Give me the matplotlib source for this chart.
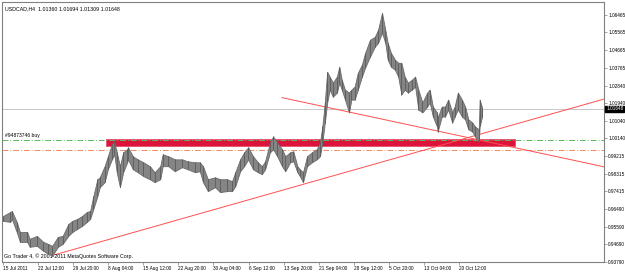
import matplotlib
matplotlib.use("Agg")
import matplotlib.pyplot as plt
from matplotlib.patches import Rectangle

# H4 bars (bar index), highs and lows
bar = [0, 9, 11, 17, 21, 30, 33, 42, 50, 56, 61, 68, 74, 81, 86, 92, 98, 104, 108, 112,
       117, 120, 126, 130, 135, 138, 141, 145, 149, 154, 155, 161, 167, 174, 182, 188, 195, 198, 205, 213,
       222, 229, 238, 244, 248, 254, 263, 269, 278, 284, 288, 294, 299, 304, 310, 316, 321, 325, 331, 335,
       340, 346, 350, 356, 360, 365, 368, 372, 377, 383, 389, 393, 396, 399, 402, 405, 409, 414, 417, 420,
       424, 429, 432, 436, 440, 445, 449, 455, 461, 465, 470, 474, 477, 481, 486, 490, 494, 498, 502, 507,
       511, 515, 520, 526, 529, 533, 538, 539, 544, 548, 552, 557, 560, 564, 569, 573, 577, 582, 585, 590,
       591, 594]
hi = [0.9614, 0.9635, 0.9640, 0.9584, 0.9532, 0.9532, 0.9497, 0.9512, 0.9481, 0.9471, 0.9461, 0.9507, 0.9512, 0.9573, 0.9589, 0.9599, 0.9614, 0.9635, 0.9640, 0.9716,
      0.9803, 0.9813, 0.9870, 0.9921, 0.9982, 0.9997, 0.9941, 0.9870, 0.9941, 0.9957, 0.9967, 0.9921, 0.9905, 0.9890, 0.9870, 0.9839, 0.9870, 0.9931, 0.9921, 0.9905,
      0.9905, 0.9895, 0.9890, 0.9890, 0.9870, 0.9803, 0.9813, 0.9803, 0.9803, 0.9793, 0.9839, 0.9905, 0.9941, 0.9967, 0.9921, 0.9890, 0.9870, 0.9895, 0.9992, 1.0023,
      0.9992, 0.9957, 0.9921, 0.9941, 0.9946, 0.9870, 0.9854, 0.9839, 0.9921, 0.9941, 0.9957, 0.9992, 1.0074, 1.0197, 1.0355, 1.0330, 1.0299, 1.0330, 1.0381, 1.0314,
      1.0263, 1.0248, 1.0263, 1.0279, 1.0350, 1.0391, 1.0452, 1.0519, 1.0534, 1.0570, 1.0657, 1.0570, 1.0503, 1.0452, 1.0417, 1.0401, 1.0401, 1.0330, 1.0299, 1.0314,
      1.0330, 1.0263, 1.0197, 1.0248, 1.0263, 1.0176, 1.0146, 1.0120, 1.0176, 1.0176, 1.0212, 1.0146, 1.0176, 1.0248, 1.0212, 1.0176, 1.0110, 1.0094, 1.0074, 1.0059,
      1.0212, 1.0171]
lo = [0.9589, 0.9584, 0.9599, 0.9532, 0.9481, 0.9481, 0.9456, 0.9461, 0.9435, 0.9420, 0.9410, 0.9456, 0.9471, 0.9512, 0.9532, 0.9548, 0.9563, 0.9584, 0.9599, 0.9650,
      0.9716, 0.9762, 0.9788, 0.9854, 0.9905, 0.9931, 0.9839, 0.9762, 0.9839, 0.9890, 0.9905, 0.9854, 0.9839, 0.9819, 0.9803, 0.9788, 0.9803, 0.9870, 0.9870, 0.9844,
      0.9865, 0.9854, 0.9839, 0.9844, 0.9788, 0.9742, 0.9762, 0.9737, 0.9742, 0.9742, 0.9767, 0.9844, 0.9870, 0.9905, 0.9854, 0.9839, 0.9829, 0.9854, 0.9941, 0.9957,
      0.9921, 0.9870, 0.9844, 0.9890, 0.9895, 0.9839, 0.9819, 0.9788, 0.9870, 0.9890, 0.9905, 0.9921, 0.9992, 1.0094, 1.0197, 1.0263, 1.0227, 1.0248, 1.0299, 1.0263,
      1.0212, 1.0146, 1.0212, 1.0212, 1.0263, 1.0330, 1.0376, 1.0432, 1.0483, 1.0503, 1.0555, 1.0503, 1.0417, 1.0381, 1.0365, 1.0330, 1.0238, 1.0263, 1.0248, 1.0263,
      1.0279, 1.0161, 1.0146, 1.0176, 1.0197, 1.0125, 1.0074, 1.0048, 1.0125, 1.0125, 1.0161, 1.0094, 1.0125, 1.0161, 1.0125, 1.0110, 1.0059, 1.0048, 1.0023, 0.9997,
      1.0074, 1.0125]

title = "USDCAD,H4  1.01360 1.01694 1.01309 1.01648"
bid = 1.01648
order_price = 1.0003
stop_price = 0.9952
zone = (128, 635, 0.9972, 1.0008)
trend_down = ([346, 800], [1.0222, 0.9818])
trend_up = ([64, 800], [0.9415, 1.0279])

price_ticks = [1.06465, 1.05565, 1.04665, 1.03765, 1.02840, 1.01940, 1.01040, 1.00140,
               0.99215, 0.98315, 0.97415, 0.96490, 0.95590, 0.94690, 0.93790]
date_labels = ["15 Jul 2011", "22 Jul 12:00", "29 Jul 20:00", "8 Aug 04:00", "15 Aug 12:00",
               "22 Aug 20:00", "30 Aug 04:00", "6 Sep 12:00", "13 Sep 20:00", "21 Sep 04:00",
               "28 Sep 12:00", "5 Oct 20:00", "13 Oct 04:00", "20 Oct 12:00"]
date_bars = [43.5 * i for i in range(len(date_labels))]

plt.rcParams["font.family"] = ["Liberation Sans", "DejaVu Sans"]

fig = plt.figure(figsize=(6.25, 2.73), dpi=100)
ax = fig.add_axes([2 / 625, 11 / 273, 602 / 625, 260 / 273])
ax.set_xlim(-1.24, 745.2)
ax.set_ylim(0.9378, 1.0713)

ax.add_patch(Rectangle((zone[0], zone[2]), zone[1] - zone[0], zone[3] - zone[2],
                       facecolor="#dc143c", edgecolor="#e85070", lw=0.6, zorder=2))
ax.axhline(bid, color="#c8c8c8", lw=0.7, zorder=1)
ax.axhline(order_price, color="#5cb85c", lw=0.7, ls=(0, (6, 2, 1, 2)), zorder=3)
ax.axhline(stop_price, color="#f08a60", lw=0.7, ls=(0, (6, 2, 1, 2)), zorder=3)
ax.plot(*trend_down, color="#ff5050", lw=0.7, zorder=3)
ax.plot(*trend_up, color="#ff5050", lw=0.7, zorder=3)

ax.fill_between(bar, lo, hi, color="#858585", lw=0.6, edgecolor="#6a6a6a", zorder=4)
ax.vlines(bar, lo, hi, color="#5a5a5a", lw=0.6, zorder=5)

for s in ax.spines.values():
    s.set_color("#808080")
    s.set_linewidth(0.8)

ax.yaxis.tick_right()
ax.set_yticks(price_ticks)
ax.set_yticklabels(["%.5f" % p for p in price_ticks], fontsize=3.4)
ax.tick_params(axis="y", length=2, width=0.5, pad=1, colors="#808080", labelcolor="black")
ax.set_xticks(date_bars)
ax.set_xticklabels(date_labels, fontsize=3.4, ha="left")
ax.tick_params(axis="x", length=2, width=0.5, pad=1, colors="#808080", labelcolor="black")

ax.text(0.005, 0.985, title, transform=ax.transAxes, fontsize=3.8, va="top", ha="left")
ax.text(0.003, 0.012, "Go Trader 4, \u00a9 2001-2011 MetaQuotes Software Corp.",
        transform=ax.transAxes, fontsize=3.8, va="bottom", ha="left")
ax.text(2, order_price + 0.0012, "#94873746 buy", fontsize=3.6, va="bottom", ha="left")
ax.annotate("%.5f" % bid, xy=(1.0, bid), xycoords=("axes fraction", "data"),
            xytext=(1.5, 0), textcoords="offset points", fontsize=3.4, color="white",
            va="center", ha="left", bbox=dict(boxstyle="square,pad=0.15", fc="black", ec="black"))

fig.savefig("out.png", dpi=100)
